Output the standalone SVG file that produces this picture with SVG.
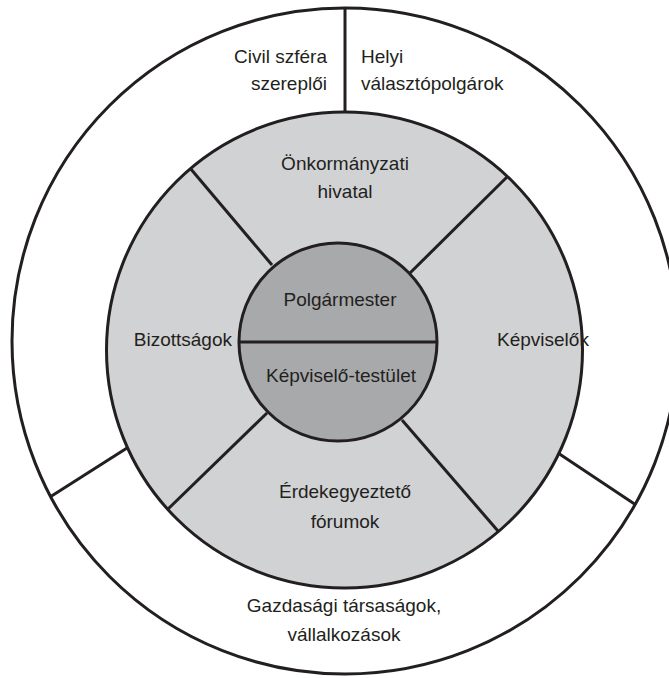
<svg xmlns="http://www.w3.org/2000/svg" width="669" height="678" viewBox="0 0 669 678">
  <style>
    .ring { stroke: #231f20; stroke-width: 3; }
    .sep { stroke: #231f20; stroke-width: 3; fill: none; stroke-linecap: butt; }
    .lbl { font-family: "Liberation Sans", Arial, sans-serif; font-size: 19px; fill: #231f20; }
    .mid { text-anchor: middle; }
    .end { text-anchor: end; }
  </style>
  <rect width="669" height="678" fill="#ffffff"/>

  <!-- outer ring: external actors -->
  <g id="outer-ring">
    <circle class="ring" cx="345" cy="341" r="333" fill="#ffffff"/>
  </g>

  <!-- middle ring: municipal bodies -->
  <g id="middle-ring">
    <circle class="ring" cx="344.5" cy="350" r="238" fill="#d1d2d4"/>
  </g>

  <!-- core: mayor and council -->
  <g id="core">
    <circle class="ring" cx="338" cy="342" r="99" fill="#a8a9ab"/>
  </g>

  <!-- separators between sectors -->
  <g id="connectors">
    <line class="sep" x1="239" y1="342" x2="437" y2="342"/>
    <line class="sep" x1="272" y1="265" x2="190" y2="168"/>
    <line class="sep" x1="410" y1="273" x2="507" y2="177"/>
    <line class="sep" x1="267" y1="413" x2="168" y2="509"/>
    <line class="sep" x1="402" y1="420" x2="498" y2="531"/>
    <line class="sep" x1="345" y1="8" x2="345" y2="112"/>
    <line class="sep" x1="50" y1="497" x2="127" y2="448"/>
    <line class="sep" x1="636" y1="505" x2="558" y2="453"/>
  </g>

  <g id="civil">
    <text class="lbl end" x="327" y="63">Civil szféra</text>
    <text class="lbl end" x="327" y="90">szereplői</text>
  </g>
  <g id="valasztok">
    <text class="lbl" x="361" y="63">Helyi</text>
    <text class="lbl" x="361" y="90">választópolgárok</text>
  </g>
  <g id="hivatal">
    <text class="lbl mid" x="345" y="170">Önkormányzati</text>
    <text class="lbl mid" x="345" y="198">hivatal</text>
  </g>
  <g id="polgarmester">
    <text class="lbl mid" x="340" y="306">Polgármester</text>
  </g>
  <g id="testulet">
    <text class="lbl mid" x="341" y="382">Képviselő-testület</text>
  </g>
  <g id="bizottsagok">
    <text class="lbl end" x="232" y="346">Bizottságok</text>
  </g>
  <g id="kepviselok">
    <text class="lbl" x="497" y="346">Képviselők</text>
  </g>
  <g id="forumok">
    <text class="lbl mid" x="345" y="498">Érdekegyeztető</text>
    <text class="lbl mid" x="345" y="528">fórumok</text>
  </g>
  <g id="gazdasag">
    <text class="lbl mid" x="344" y="612">Gazdasági társaságok,</text>
    <text class="lbl mid" x="344" y="641">vállalkozások</text>
  </g>
</svg>
